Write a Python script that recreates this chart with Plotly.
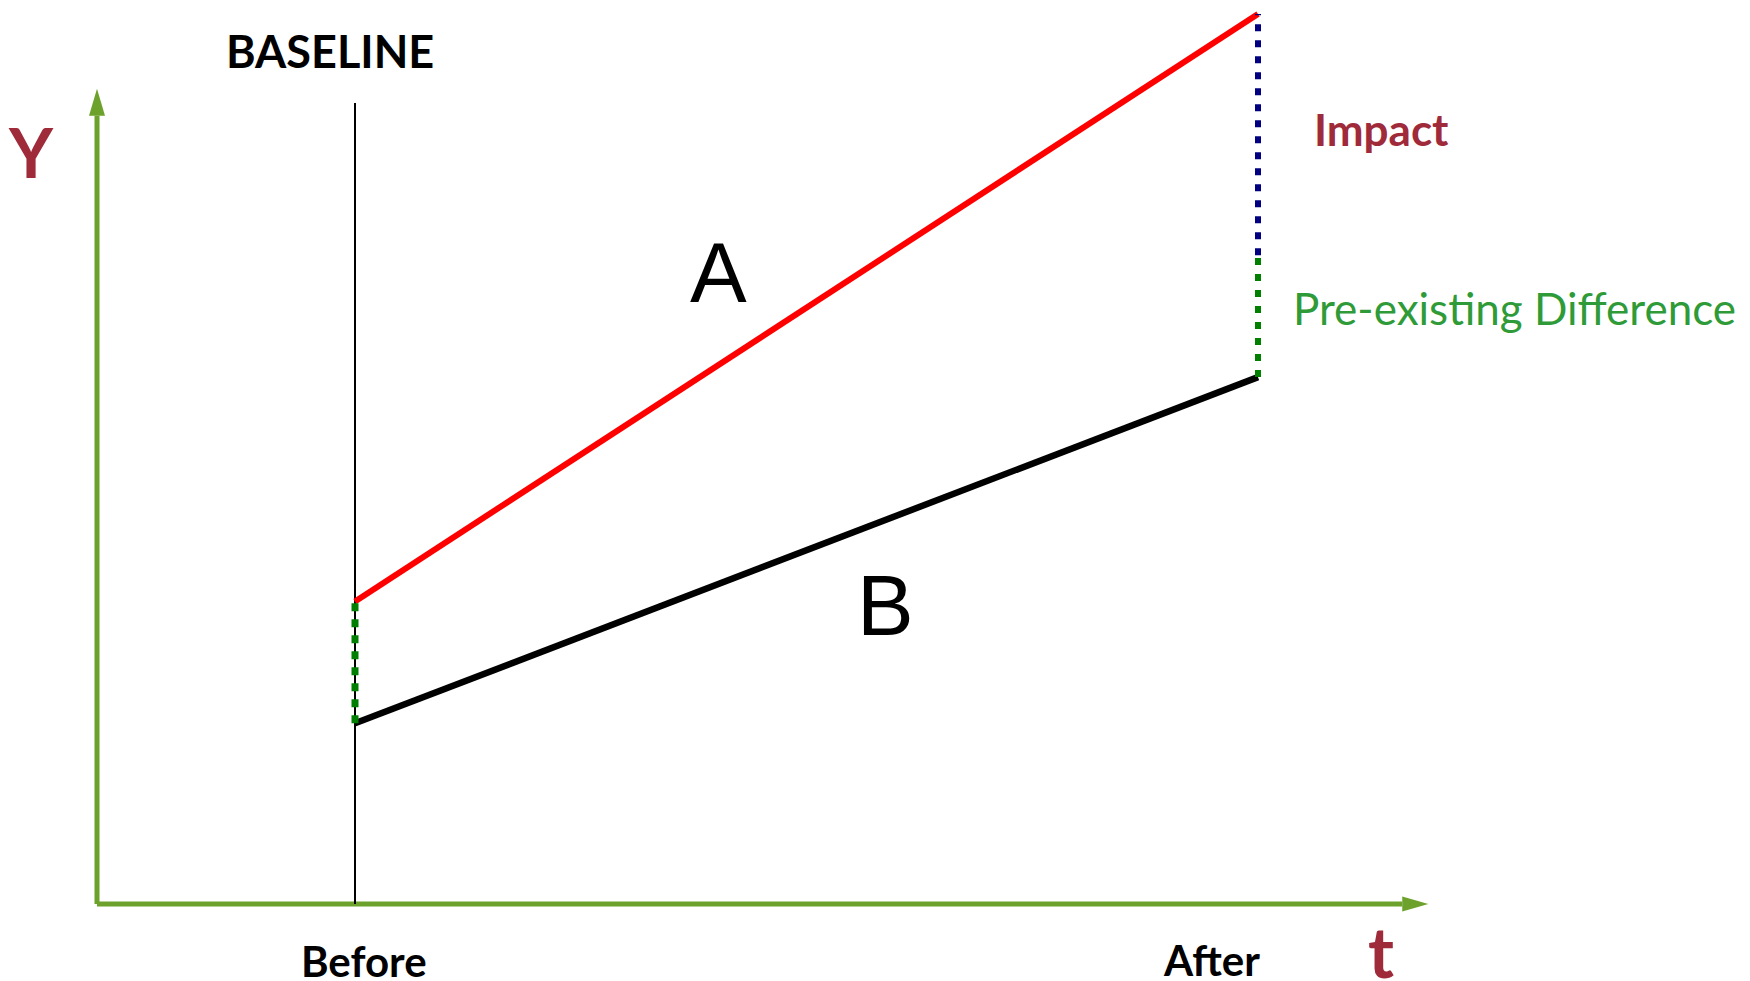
import plotly.graph_objects as go

# ---- data (schematic difference-in-differences) ----
periods = ["Before", "After"]
t_values = [1.0, 4.5]
group_a = [3.4, 10.0]      # treated (red)
group_b = [2.03, 5.92]     # comparison (black)
baseline_top = 9.0
pre_diff = group_a[0] - group_b[0]
counterfactual_after = group_b[1] + pre_diff

# axis extents
y_axis_tip = 9.16
x_axis_tip = 5.16

W, H = 1750, 981
x_range = [-97 / 258, (W - 97) / 258]
y_range = [-77 / 89, 904 / 89]
px_x = (x_range[1] - x_range[0]) / W
px_y = (y_range[1] - y_range[0]) / H

GREEN_AX = "#6CA22B"
DARK_RED = "#9F2A3A"
TEXT_GREEN = "#2F9B38"

fig = go.Figure()

def line(xs, ys, color, width, dash="solid"):
    fig.add_trace(go.Scatter(x=xs, y=ys, mode="lines",
                             line=dict(color=color, width=width, dash=dash),
                             hoverinfo="skip", showlegend=False))

def tri(xs, ys, color):
    fig.add_trace(go.Scatter(x=xs + [xs[0]], y=ys + [ys[0]], mode="lines",
                             fill="toself", fillcolor=color,
                             line=dict(color=color, width=0),
                             hoverinfo="skip", showlegend=False))

# axes (green arrows)
ah_len_y, ah_half_w = 27 * px_y, 8 * px_x
line([0, 0], [0, y_axis_tip - ah_len_y], GREEN_AX, 5)
tri([-ah_half_w, ah_half_w, 0], [y_axis_tip - ah_len_y] * 2 + [y_axis_tip], GREEN_AX)
ah_len_x, ah_half_h = 26 * px_x, 7.5 * px_y
line([0, x_axis_tip - ah_len_x], [0, 0], GREEN_AX, 5)
tri([x_axis_tip - ah_len_x] * 2 + [x_axis_tip], [-ah_half_h, ah_half_h, 0], GREEN_AX)

# baseline vertical
line([t_values[0], t_values[0]], [0, baseline_top], "black", 2)

# group lines
line(t_values, group_a, "#FF0000", 6)
line(t_values, group_b, "black", 6.5)

# dotted differences
line([t_values[0], t_values[0]], [group_b[0], group_a[0]], "#007F00", 7, "8px,8px")
line([t_values[1], t_values[1]], [group_b[1], counterfactual_after], "#007F00", 6, "7px,9px")
line([t_values[1], t_values[1]], [counterfactual_after, group_a[1]], "#000080", 6, "7px,9px")

BOLD = "Lato"
ann = []
def text(x, y, s, size, color, family=BOLD, bold=True):
    ann.append(dict(x=x, y=y, xref="x", yref="y", text=f"<b>{s}</b>" if bold else s,
                    showarrow=False, xanchor="center", yanchor="middle",
                    font=dict(family=family, size=size, color=color)))

text(0.903, 9.58, "BASELINE", 45, "black")
text(1.035, -0.64, periods[0], 42, "black")
text(4.32, -0.63, periods[1], 42, "black")
text(4.977, -0.53, "t", 70, DARK_RED)
text(-0.255, 8.46, "Y", 68, DARK_RED)
text(4.98, 8.71, "Impact", 44, DARK_RED)
text(5.494, 6.70, "Pre-existing Difference", 44, TEXT_GREEN, bold=False)
text(2.407, 7.09, "A", 85, "black", family="Liberation Sans", bold=False)
text(3.058, 3.35, "B", 85, "black", family="Liberation Sans", bold=False)

fig.update_layout(
    width=W, height=H, margin=dict(l=0, r=0, t=0, b=0),
    paper_bgcolor="white", plot_bgcolor="white",
    showlegend=False, hovermode=False, annotations=ann,
    xaxis=dict(range=x_range, visible=False, fixedrange=True),
    yaxis=dict(range=y_range, visible=False, fixedrange=True),
)

fig.write_html("out.html", config={"displayModeBar": False},
               post_script="document.body.style.margin='0';document.body.style.overflow='hidden';")
